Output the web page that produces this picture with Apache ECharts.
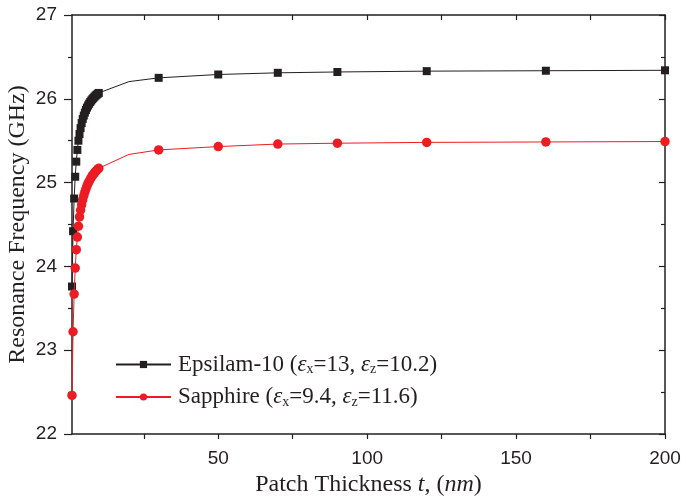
<!DOCTYPE html>
<html>
<head>
<meta charset="utf-8">
<script src="https://cdn.jsdelivr.net/npm/echarts@6/dist/echarts.min.js"></script>
<style>html,body{margin:0;padding:0;background:#fff}#c{width:681px;height:497px}</style>
</head>
<body>
<div id="c"></div>
<script>
// Patch thickness t (nm)
const thickness = [0.9, 1.26, 1.62, 1.98, 2.34, 2.7, 3.06, 3.42, 3.78, 4.14, 4.5, 4.86, 5.22, 5.58, 5.94, 6.3, 6.66, 7.02, 7.38, 7.74, 8.1, 8.46, 8.82, 9.18, 9.54, 9.9, 20, 30, 50, 70, 90, 120, 160, 200];
// Resonance frequency (GHz)
const epsilam = [23.76, 24.42, 24.81, 25.07, 25.25, 25.39, 25.50, 25.58, 25.65, 25.71, 25.76, 25.80, 25.835, 25.867, 25.895, 25.92, 25.942, 25.962, 25.98, 25.996, 26.011, 26.025, 26.038, 26.049, 26.06, 26.07, 26.205, 26.25, 26.29, 26.31, 26.32, 26.33, 26.335, 26.34];
const sapphire = [22.46, 23.22, 23.67, 23.98, 24.20, 24.35, 24.48, 24.59, 24.67, 24.735, 24.794, 24.844, 24.888, 24.926, 24.96, 24.99, 25.016, 25.04, 25.062, 25.082, 25.10, 25.117, 25.132, 25.147, 25.16, 25.171, 25.336, 25.39, 25.43, 25.46, 25.47, 25.48, 25.485, 25.49];
const hiddenMarkerAt = [20];
const xTicks = [25, 50, 75, 100, 125, 150, 175, 200];
const xLabels = [50, 100, 150, 200];

const SERIF = "'Liberation Serif','Times New Roman',serif";
const SANS = "'Liberation Sans',Arial,sans-serif";
const BLACK = '#231f20';
const RED = '#ec1c24';

function build(vals) {
  return thickness.map((t, i) => hiddenMarkerAt.includes(t)
    ? { value: [t, vals[i]], symbol: 'none' }
    : [t, vals[i]]);
}

const richLegend = {
  a: { fontFamily: SERIF, fontSize: 23, color: BLACK, lineHeight: 24 },
  e: { fontFamily: SERIF, fontSize: 23, fontStyle: 'italic', color: BLACK, lineHeight: 24 },
  s: { fontFamily: SERIF, fontSize: 14, color: BLACK, verticalAlign: 'bottom', lineHeight: 13 }
};

const chart = echarts.init(document.getElementById('c'), null, { renderer: 'canvas' });
chart.setOption({
  animation: false,
  backgroundColor: '#fff',
  grid: { left: 72, right: 16, top: 15, bottom: 63, containLabel: false, outerBoundsMode: 'none' },
  legend: {
    left: 110, top: 348, orient: 'vertical', itemGap: 9,
    itemWidth: 55, itemHeight: 9,
    data: ['Epsilam-10', 'Sapphire'],
    textStyle: { rich: richLegend, padding: [0, 0, 0, 2] },
    formatter: function (name) {
      if (name === 'Epsilam-10') return '{a|Epsilam-10 (}{e|ε}{s|x}{a|=13, }{e|ε}{s|z}{a|=10.2)}';
      return '{a|Sapphire (}{e|ε}{s|x}{a|=9.4, }{e|ε}{s|z}{a|=11.6)}';
    }
  },
  xAxis: [{
    type: 'value', min: 0.9, max: 200, position: 'bottom',
    name: '{a|Patch Thickness }{i|t}{a|, (}{i|nm}{a|)}',
    nameLocation: 'middle', nameGap: 39, nameMoveOverlap: false,
    nameTextStyle: { rich: { a: { fontFamily: SERIF, fontSize: 24, color: BLACK }, i: { fontFamily: SERIF, fontSize: 24, fontStyle: 'italic', color: BLACK } } },
    axisLine: { lineStyle: { color: BLACK, width: 1.5 } },
    axisTick: { show: true, customValues: xTicks, length: 5, lineStyle: { color: BLACK, width: 1.2 } },
    axisLabel: { customValues: xLabels, margin: 15, fontFamily: SANS, fontSize: 19, color: BLACK },
    splitLine: { show: false }
  }, {
    type: 'value', min: 0.9, max: 200, position: 'top',
    axisLine: { show: true, lineStyle: { color: BLACK, width: 1.5 } },
    axisTick: { show: true, inside: true, customValues: xTicks, length: 5, lineStyle: { color: BLACK, width: 1.2 } },
    axisLabel: { show: false }, splitLine: { show: false }
  }],
  yAxis: [{
    type: 'value', min: 22, max: 27, interval: 1, position: 'left',
    name: 'Resonance Frequency (GHz)', nameLocation: 'middle', nameGap: 42, nameMoveOverlap: false,
    nameTextStyle: { fontFamily: SERIF, fontSize: 24, color: BLACK },
    axisLine: { show: true, lineStyle: { color: BLACK, width: 1.5 } },
    axisTick: { show: true, length: 8, lineStyle: { color: BLACK, width: 1.2 } },
    minorTick: { show: true, splitNumber: 2, length: 4, lineStyle: { color: BLACK, width: 1.2 } },
    axisLabel: { margin: 15, fontFamily: SANS, fontSize: 19, color: BLACK },
    splitLine: { show: false }
  }, {
    type: 'value', min: 22, max: 27, interval: 1, position: 'right',
    axisLine: { show: true, lineStyle: { color: BLACK, width: 1.5 } },
    axisTick: { show: true, inside: true, length: 6, lineStyle: { color: BLACK, width: 1.2 } },
    minorTick: { show: true, splitNumber: 2, length: 4, lineStyle: { color: BLACK, width: 1.2 } },
    axisLabel: { show: false }, splitLine: { show: false }
  }],
  series: [{
    name: 'Epsilam-10', type: 'line', data: build(epsilam),
    symbol: 'rect', symbolSize: 8, color: BLACK,
    itemStyle: { color: BLACK }, lineStyle: { color: BLACK, width: 1 },
    clip: true, z: 3
  }, {
    name: 'Sapphire', type: 'line', data: build(sapphire),
    symbol: 'circle', symbolSize: 9.5, color: RED,
    itemStyle: { color: RED }, lineStyle: { color: RED, width: 1 },
    clip: true, z: 4
  }]
});
</script>
</body>
</html>
